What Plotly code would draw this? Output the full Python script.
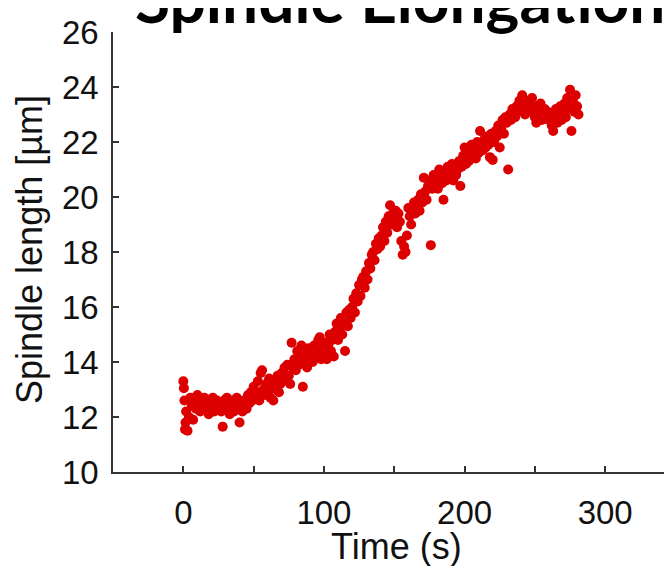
import plotly.graph_objects as go

time_s = [0, 0.4, 0.8, 1.2, 1.6, 2,
          3, 4, 5, 6, 7, 8, 9,
          10, 11, 12, 13, 14, 15, 16, 17, 18, 19,
          20, 21, 22, 23, 24, 25, 26, 27, 28, 29,
          30, 31, 32, 33, 34, 35, 36, 37, 38, 39,
          40, 41, 42, 43, 44, 45, 46, 47, 48, 49,
          50, 51, 52, 53, 54, 55, 56, 57, 58, 59,
          60, 61, 62, 63, 64, 65, 66, 67, 68, 69,
          70, 71, 72, 73, 74, 75, 76, 77, 78, 79,
          80, 81, 82, 83, 84, 85, 86, 87, 88, 89,
          90, 91, 92, 93, 94, 95, 96, 97, 98, 99,
          100, 101, 102, 103, 104, 105, 106, 107, 108, 109,
          110, 111, 112, 113, 114, 115, 116, 117, 118, 119,
          120, 121, 122, 123, 124, 125, 126, 127, 128, 129,
          130, 131, 132, 133, 134, 135, 136, 137, 138, 139,
          140, 141, 142, 143, 144, 145, 146, 147, 148, 149,
          150, 151, 152, 153, 154, 155, 156, 157, 158, 159,
          160, 161, 162, 163, 164, 165, 166, 167, 168, 169,
          170, 171, 172, 173, 174, 175, 176, 177, 178, 179,
          180, 181, 182, 183, 184, 185, 186, 187, 188, 189,
          190, 191, 192, 193, 194, 195, 196, 197, 198, 199,
          200, 201, 202, 203, 204, 205, 206, 207, 208, 209,
          210, 211, 212, 213, 214, 215, 216, 217, 218, 219,
          220, 221, 222, 223, 224, 225, 226, 227, 228, 229,
          230, 231, 232, 233, 234, 235, 236, 237, 238, 239,
          240, 241, 242, 243, 244, 245, 246, 247, 248, 249,
          250, 251, 252, 253, 254, 255, 256, 257, 258, 259,
          260, 261, 262, 263, 264, 265, 266, 267, 268, 269,
          270, 271, 272, 273, 274, 275, 276, 277, 278, 279, 280, 281]

spindle_length_um = [13.3, 13.05, 12.6, 11.55, 11.8, 12.2,
                     11.5, 12.0, 12.7, 12.4, 11.9, 12.6, 12.3,
                     12.8, 12.5, 12.2, 12.6, 12.4, 12.7, 12.3, 12.5, 12.1, 12.6,
                     12.4, 12.7, 12.2, 12.5, 12.6, 12.3, 12.5, 12.2, 11.65, 12.6,
                     12.4, 12.7, 12.3, 12.1, 12.5, 12.6, 12.2, 12.4, 12.7, 12.3,
                     11.8, 12.5, 12.2, 12.6, 12.4, 12.3, 12.8, 12.5, 12.9, 12.6,
                     13.1, 12.7, 12.9, 13.3, 12.6, 13.6, 13.7, 13.0, 12.8, 13.2,
                     12.9, 13.4, 12.7, 13.1, 12.6, 13.3, 13.0, 13.5, 12.9, 13.2,
                     13.6, 13.3, 13.8, 13.4, 13.9, 13.5, 13.2, 14.7, 13.8, 14.1,
                     13.7, 14.4, 13.9, 14.2, 14.6, 13.1, 14.0, 14.3, 13.8, 14.5,
                     14.1, 14.3, 14.0, 14.6, 14.2, 14.4, 14.8, 14.9, 14.1, 14.5,
                     14.3, 14.7, 14.1, 14.6, 15.0, 14.4, 14.8, 14.2, 15.1, 15.4,
                     14.8, 15.2, 15.6, 15.0, 15.4, 14.4, 15.8, 15.3, 15.9, 15.6,
                     16.0, 16.3, 15.8, 16.5, 16.2, 16.8, 16.4, 17.0, 17.1, 16.7,
                     17.3, 17.0, 17.6, 17.4, 17.9, 18.0, 17.7, 18.3, 18.1, 18.5,
                     18.2, 18.6, 18.9, 18.4, 19.1, 18.7, 19.3, 19.7, 19.0, 19.4,
                     19.2, 19.5, 18.9, 19.4, 19.1, 18.4, 17.9, 18.2, 18.0, 18.6,
                     19.6, 19.3, 19.0, 19.5, 19.8, 19.4, 19.7, 19.9, 19.5, 20.1,
                     19.8, 20.7, 20.2, 19.9, 20.4, 20.6, 18.25, 20.3, 20.8, 20.5,
                     20.6, 20.3, 21.0, 20.8, 20.5, 19.9, 20.9, 20.6, 21.1, 20.7,
                     20.9, 21.2, 20.6, 21.0, 20.8, 21.0, 21.3, 20.4, 21.1, 21.5,
                     21.8, 21.2, 21.6, 21.3, 21.45, 21.9, 21.5, 21.7, 21.4, 22.0,
                     21.6, 22.4, 21.9, 21.7, 22.1, 21.8, 22.2, 21.9, 21.45, 22.3,
                     21.35, 22.0, 22.4, 22.2, 22.6, 21.8, 22.5, 22.8, 22.3, 22.9,
                     22.7, 21.0, 23.0, 22.8, 23.2, 23.05, 22.9, 23.3, 23.1, 23.5,
                     23.2, 23.7, 23.4, 23.0, 23.3, 23.1, 23.5, 23.2, 23.6, 23.3,
                     22.9, 22.7, 23.2, 23.0, 23.4, 22.8, 23.05, 23.2, 22.9, 23.1,
                     22.8, 23.0, 22.6, 22.4, 22.9, 23.2, 22.7, 23.0, 23.3, 22.8,
                     23.05, 23.4, 22.9, 23.6, 23.2, 23.9, 22.4, 23.5, 23.1, 23.7, 23.3, 23.0]

x_tick_vals = [0, 50, 100, 150, 200, 250, 300]
x_tick_text = ["0", "", "100", "", "200", "", "300"]
y_tick_vals = [10, 12, 14, 16, 18, 20, 22, 24, 26]

title_text = "Spindle Elongation"
x_title = "Time (s)"
y_title = "Spindle length [µm]"

# The page body adds an 8 px offset, so the figure is sized to fill the window.
W, H = 664, 558
L, R, T, B = 105, 0, 24, 94
pw, ph = W - L - R, H - T - B

fig = go.Figure()
fig.add_trace(go.Scatter(
    x=time_s, y=spindle_length_um, mode="markers",
    marker=dict(color="#dd0000", size=10, line=dict(width=0)),
    showlegend=False, cliponaxis=False,
))

axis_color = "#333333"
tick_font = dict(family="Liberation Sans, Arial, sans-serif", size=33, color="#111111")
title_font = dict(family="Liberation Sans, Arial, sans-serif", size=36, color="#111111")

fig.update_layout(
    width=W, height=H,
    margin=dict(l=L, r=R, t=T, b=B),
    paper_bgcolor="white", plot_bgcolor="white",
    xaxis=dict(
        range=[-50, 347.5], showgrid=False, zeroline=False,
        showline=True, linecolor=axis_color, linewidth=1.5,
        ticks="inside", ticklen=6, tickwidth=1.5, tickcolor=axis_color,
        tickmode="array", tickvals=x_tick_vals, ticktext=x_tick_text,
        tickfont=tick_font, ticklabelstandoff=11,
        automargin=False,
    ),
    yaxis=dict(
        range=[10, 26], showgrid=False, zeroline=False,
        showline=True, linecolor=axis_color, linewidth=1.5,
        ticks="inside", ticklen=6, tickwidth=1.5, tickcolor=axis_color,
        tickmode="array", tickvals=y_tick_vals,
        tickfont=tick_font, ticklabelstandoff=6,
        automargin=False,
    ),
    annotations=[
        dict(text="<b>" + title_text + "</b>", xref="paper", yref="paper",
             x=(392 - L) / pw, y=1 + (T - 31) / ph, xanchor="center", yanchor="bottom",
             showarrow=False,
             font=dict(family="Lato, Open Sans, sans-serif", size=64, color="black")),
        dict(text=x_title, xref="paper", yref="paper",
             x=(388 - L) / pw, y=-(538 - (H - B)) / ph, xanchor="center", yanchor="middle",
             showarrow=False, font=title_font),
        dict(text=y_title, xref="paper", yref="paper", textangle=-90,
             x=-(L - 21) / pw, y=(H - B - 242) / ph, xanchor="center", yanchor="middle",
             showarrow=False, font=title_font),
    ],
)

fig.write_html("out.html")
